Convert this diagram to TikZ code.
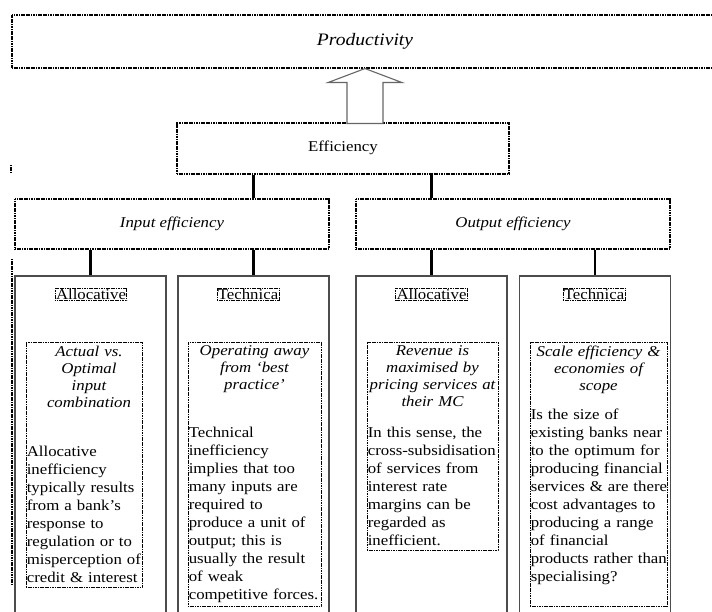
\documentclass[tikz,border=0pt]{standalone}
\usepackage{fontspec}
\setmainfont{Liberation Serif}[FakeStretch=1.12]
\usetikzlibrary{calc}

\begin{document}
\begin{tikzpicture}[
  x=1pt, y=-1pt,
  font=\fontsize{15}{18}\selectfont,
  dotbox/.style={draw=black, dash pattern=on 1.2pt off 0.5pt, line width=1.1pt, inner sep=0pt},
  lvl/.style={dotbox, minimum width=314pt, minimum height=50pt},
  col/.style={draw=black!70, line width=1.2pt, minimum width=151pt, minimum height=364pt, inner sep=0pt},
  tag/.style={dotbox, line width=0.7pt, inner sep=0.8pt},
  txtbox/.style={dotbox, line width=0.8pt},
  hd/.style={anchor=north, inner sep=0pt, align=center, text width=160pt,
    font=\fontsize{15}{17}\selectfont\itshape},
  bd/.style={anchor=north west, inner sep=0pt, align=left, text width=170pt},
  link/.style={line width=2.8pt},
  hollow/.style={draw=black!60, line width=1.1pt, fill=white},
]
  \useasboundingbox (0,0) rectangle (712,612);
  \clip (0,0) rectangle (712,612);

  \node[dotbox, minimum width=706pt, minimum height=53pt] (prod) at (365,41.5)
    {\fontsize{17.5}{20}\selectfont\itshape Productivity};
  \node[dotbox, minimum width=332pt, minimum height=51pt] (eff) at (343,148.5)
    {\raisebox{4pt}{Efficiency}};
  \node[lvl] (inp) at (172,224) {\itshape Input efficiency};
  \node[lvl] (out) at (513,224) {\itshape Output efficiency};

  \draw[hollow] (prod.south) -- ++(37,14) -- ++(-19,0) -- ++(0,41) -- ++(-36,0)
    -- ++(0,-41) -- ++(-19,0) -- cycle;

  \node[col] (al1) at (90.5,458) {};
  \node[col] (te1) at (253.5,458) {};
  \node[col] (al2) at (431.5,458) {};
  \node[col] (te2) at (595,458) {};

  \draw[link] (eff.south -| te1.north) -- (inp.north -| te1.north);
  \draw[link] (eff.south -| al2.north) -- (out.north -| al2.north);
  \draw[link] (inp.south -| al1.north) -- (al1.north);
  \draw[link] (inp.south -| te1.north) -- (te1.north);
  \draw[link] (out.south -| al2.north) -- (al2.north);
  \draw[link] (out.south -| te2.north) -- (te2.north);

  \node[tag] (al1t) at (91,294.5) {Allocative};
  \node[tag] (te1t) at (248,294.5) {Technica};
  \node[tag] (al2t) at (431.5,294.5) {Allocative};
  \node[tag] (te2t) at (594,294.5) {Technica};

  \node[txtbox, minimum width=116pt, minimum height=245pt] (fr1) at (84,464.5) {};
  \node[txtbox, minimum width=133pt, minimum height=264pt] (fr2) at (254.5,474) {};
  \node[txtbox, minimum width=131pt, minimum height=208pt] (fr3) at (432.5,446) {};
  \node[txtbox, minimum width=137pt, minimum height=264pt] (fr4) at (598.5,474) {};

  % headings of the four text boxes
  \node[hd] (hd1) at ([xshift=5pt, yshift=-4pt]fr1.north)
    {Actual vs.\\ Optimal\\ input\\ combination};
  \node[hd] (hd2) at ([yshift=-4pt]fr2.north) {Operating away\\ from `best\\ practice'};
  \node[hd] (hd3) at ([yshift=-4pt]fr3.north)
    {Revenue is\\ maximised by\\ pricing services at\\ their MC};
  \node[hd] (hd4) at ([yshift=-4pt]fr4.north) {Scale efficiency \&\\ economies of\\ scope};

  \node[bd] (bd1) at ($(fr1.north west)+(1,104)$) {Allocative\\ inefficiency\\
    typically results\\ from a bank's\\ response to\\ regulation or to\\
    misperception of\\ credit \& interest};
  \node[bd] (bd2) at ($(fr2.north west)+(1,85)$) {Technical\\ inefficiency\\
    implies that too\\ many inputs are\\ required to\\ produce a unit of\\
    output; this is\\ usually the result\\ of weak\\ competitive forces.};
  \node[bd] (bd3) at ($(fr3.north west)+(1,85)$) {In this sense, the\\
    cross-subsidisation\\ of services from\\ interest rate\\ margins can be\\
    regarded as\\ inefficient.};
  \node[bd] (bd4) at ($(fr4.north west)+(1,67)$) {Is the size of\\
    existing banks near\\ to the optimum for\\ producing financial\\
    services \& are there\\ cost advantages to\\ producing a range\\
    of financial\\ products rather than\\ specialising?};

  \draw[dotbox] (12,259) -- (12,585);
  \draw[dotbox] (11,165) -- (11,173);
\end{tikzpicture}
\end{document}
